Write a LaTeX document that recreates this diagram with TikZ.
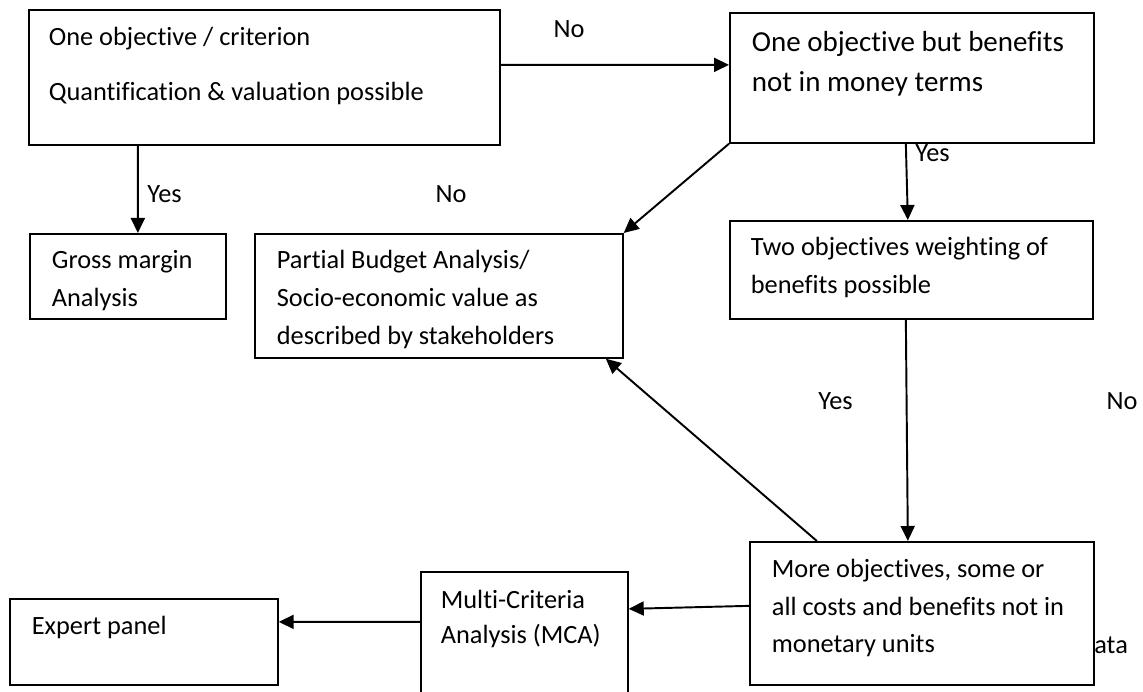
\documentclass[tikz,border=0pt]{standalone}
\usepackage{fontspec}
\setmainfont{Carlito}[Ligatures=NoCommon]
\usetikzlibrary{arrows.meta}
\newcommand{\boxText}[5]{\parbox[t][#2][t]{#1}{\leftskip=#3\relax\rule{0pt}{#4}#5}}

\begin{document}
\begin{tikzpicture}[x=0.02cm, y=-0.02cm,
    box/.style={draw, line width=1pt, anchor=north west, inner sep=0pt, font=\fontsize{15}{21.6}\selectfont},
    arr/.style={-{Triangle[length=0.3cm,width=0.28cm]}, line width=1.1pt},
    lbl/.style={inner sep=0pt, font=\fontsize{15}{18}\selectfont}]

        \clip (0,0) rectangle (1143,692);
        \fill[white] (0,0) rectangle (1143,692);

        %% boxes
        \node[box, font=\fontsize{15}{31.3}\selectfont] (crit) at (28,9) {\boxText{9.42cm}{2.7cm}{0.4cm}{0.72cm}{One objective / criterion\\Quantification \& valuation possible}};
        \node[box, font=\fontsize{16.5}{22.8}\selectfont] (money) at (729,12) {\boxText{7.28cm}{2.6cm}{0.44cm}{0.78cm}{One objective but benefits\\not in money terms}};
        \node[box] (gross) at (29,233) {\boxText{3.92cm}{1.7cm}{0.44cm}{0.7cm}{Gross margin\\Analysis}};
        \node[box] (partial) at (254,233) {\boxText{7.36cm}{2.48cm}{0.44cm}{0.7cm}{Partial Budget Analysis/\\Socio-economic value as\\described by stakeholders}};
        \node[box] (twoobj) at (729,220) {\boxText{7.26cm}{1.96cm}{0.42cm}{0.7cm}{Two objectives weighting of\\benefits possible}};
        \node[box, font=\fontsize{15}{21.3}\selectfont] (moreobj) at (749,541) {\boxText{6.88cm}{2.86cm}{0.44cm}{0.72cm}{More objectives, some or\\all costs and benefits not in\\monetary units}};
        \node[box, font=\fontsize{15}{19.9}\selectfont] (mca) at (420,571) {\boxText{4.14cm}{2.8cm}{0.4cm}{0.74cm}{Multi-Criteria\\Analysis (MCA)}};
        \node[box] (expert) at (9,598) {\boxText{5.36cm}{1.72cm}{0.44cm}{0.72cm}{Expert panel}};

        % arrows
        \draw[arr] ([xshift=-2.53cm]crit.south) -- ([xshift=0.2cm]gross.north);
        \draw[arr] ([yshift=0.25cm]crit.east) -- ([yshift=0.26cm]money.west);
        \draw[arr] (money.south west) -- (partial.north east);
        \draw[arr] ([xshift=-0.12cm]money.south) -- ([xshift=-0.07cm]twoobj.north);
        \draw[arr] ([xshift=-0.11cm]twoobj.south) -- ([xshift=-0.28cm]moreobj.north);
        \draw[arr] ([xshift=-2.1cm]moreobj.north) -- ([xshift=3.34cm]partial.south);
        \draw[arr] ([yshift=0.15cm]moreobj.west) -- ([yshift=0.66cm]mca.east);
        \draw[arr] ([yshift=0.4cm]mca.west) -- ([yshift=0.4cm]expert.east);

        % labels
        \node[lbl, anchor=base] (no1) at (569,38) {No};
        \node[lbl, anchor=base west] (yes1) at (147,203) {Yes};
        \node[lbl, anchor=base] (no2) at (451,203) {No};
        \node[lbl, anchor=base west] (yes2) at (915,162) {Yes};
        \node[lbl, anchor=base west] (yes3) at (818,410) {Yes};
        \node[lbl, anchor=base] (no3) at (1122,410) {No};
        \node[lbl, anchor=base west] (ata) at (1094,653) {ata};
    \end{tikzpicture}
\end{document}
